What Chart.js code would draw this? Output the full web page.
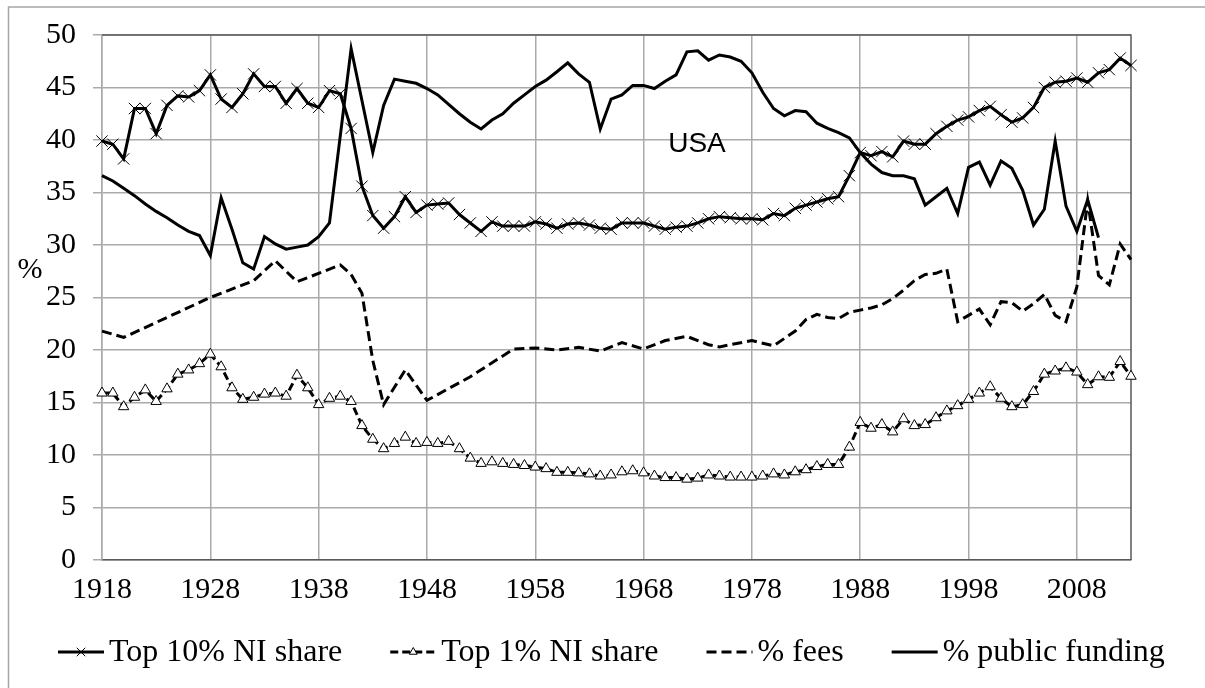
<!DOCTYPE html>
<html>
<head>
<meta charset="utf-8">
<script src="https://cdn.jsdelivr.net/npm/chart.js@4.4.1/dist/chart.umd.min.js"></script>
<style>
  html, body { margin: 0; padding: 0; background: #fff; }
  #wrap { position: relative; width: 1205px; height: 688px; }
</style>
</head>
<body>
<div id="wrap"><canvas id="grafico" width="1205" height="688"></canvas></div>
<script>
// years on the x axis, 1918 to 2013
const anos = [];
for (let a = 1918; a <= 2013; a++) anos.push(String(a));

const rotulosSeries = ['Top 10% NI share', 'Top 1% NI share', '% fees', '% public funding'];

// Top 10% NI share, 1918-2013
const top10 = [
  39.9, 39.6, 38.2, 43.0, 43.0, 40.6, 43.3, 44.2, 44.1, 44.7,
  46.2, 43.9, 43.1, 44.4, 46.3, 45.1, 45.1, 43.5, 44.9, 43.5,
  43.1, 44.7, 44.4, 41.1, 35.6, 32.8, 31.6, 32.7, 34.6, 33.1,
  33.8, 33.9, 34.0, 32.9, 32.1, 31.3, 32.2, 31.8, 31.8, 31.8,
  32.2, 32.0, 31.6, 32.0, 32.1, 31.9, 31.6, 31.5, 32.1, 32.1,
  32.1, 31.8, 31.5, 31.7, 31.8, 32.1, 32.5, 32.7, 32.6, 32.5,
  32.5, 32.4, 33.0, 32.8, 33.5, 33.8, 34.1, 34.4, 34.6, 36.6,
  38.8, 38.5, 38.9, 38.4, 39.9, 39.6, 39.6, 40.6, 41.3, 41.9,
  42.2, 42.8, 43.2, 42.4, 41.7, 42.1, 43.1, 45.0, 45.5, 45.6,
  45.9, 45.5, 46.4, 46.7, 47.8, 47.1
];

// Top 1% NI share, 1918-2013
const top1 = [
  15.9, 15.9, 14.6, 15.5, 16.2, 15.1, 16.3, 17.7, 18.1, 18.7,
  19.6, 18.4, 16.4, 15.3, 15.5, 15.8, 15.9, 15.6, 17.6, 16.4,
  14.8, 15.4, 15.6, 15.1, 12.8, 11.5, 10.6, 11.1, 11.7, 11.1,
  11.2, 11.1, 11.3, 10.6, 9.7, 9.2, 9.35, 9.2, 9.1, 9.0,
  8.85, 8.7, 8.35, 8.35, 8.3, 8.2, 8.0, 8.1, 8.4, 8.5,
  8.3, 8.0, 7.85, 7.85, 7.7, 7.8, 8.1, 8.0, 7.9, 7.9,
  7.9, 8.0, 8.2, 8.1, 8.4, 8.6, 8.9, 9.1, 9.1, 10.75,
  13.1, 12.55, 12.9, 12.2, 13.45, 12.8, 12.9, 13.55, 14.2, 14.7,
  15.3, 15.9, 16.5, 15.4, 14.6, 14.8, 16.05, 17.7, 18.0, 18.3,
  17.9, 16.7, 17.45, 17.4, 18.9, 17.5
];

// % fees (null = no observation, line is joined across)
const taxas = [
  21.8, null, 21.2, null, null, null, null, null, null, null,
  25.0, null, null, null, 26.6, null, 28.5, null, 26.5, null,
  null, null, 28.1, 27.2, 25.4, 19.0, 14.8, null, 18.1, null,
  15.2, null, null, null, 17.45, null, null, null, 20.1, null,
  20.2, null, 20.0, null, 20.25, null, 19.9, null, 20.7, null,
  20.1, null, 20.9, null, 21.3, null, 20.5, 20.3, null, null,
  20.9, null, 20.4, null, 21.8, 22.9, 23.4, 23.1, 23.0, 23.6,
  23.8, 24.0, 24.3, 24.9, 25.7, 26.6, 27.2, 27.3, 27.7, 22.7,
  23.3, 23.9, 22.4, 24.6, 24.5, 23.7, 24.4, 25.3, 23.3, 22.7,
  26.0, 34.2, 27.1, 26.2, 30.1, 28.6
];

// % public funding
const publico = [
  36.6, 36.1, 35.4, 34.7, 33.9, 33.2, 32.6, 31.9, 31.3, 30.9,
  29.0, 34.5, 31.5, 28.3, 27.7, 30.8, 30.1, 29.6, 29.8, 30.0,
  30.8, 32.1, null, 48.7, null, 38.8, 43.3, 45.8, 45.6, 45.4,
  44.9, 44.3, 43.4, 42.5, 41.7, 41.05, 41.9, 42.5, 43.5, 44.3,
  45.1, 45.7, 46.5, 47.35, 46.3, 45.5, 41.05, 43.9, 44.3, 45.2,
  45.2, 44.9, 45.6, 46.2, 48.4, 48.5, 47.6, 48.1, 47.9, 47.5,
  46.4, 44.55, 43.0, 42.3, 42.8, 42.7, 41.6, 41.1, 40.7, 40.2,
  38.8, 37.7, 36.9, 36.6, 36.6, 36.3, 33.8, 34.6, 35.4, 33.0,
  37.4, 37.9, 35.7, 38.0, 37.3, 35.2, 31.9, 33.4, 39.9, 33.7,
  31.3, 34.3, 30.7, null, null, null
];

const serif = '"Liberation Serif", "Times New Roman", serif';

// frame, plot border, "%" and "USA" texts, and the legend
const extras = {
  id: 'extras',
  beforeDraw(chart) {
    const ctx = chart.ctx;
    ctx.save();
    ctx.strokeStyle = '#a6a6a6';
    ctx.lineWidth = 1.5;
    ctx.beginPath();
    ctx.moveTo(8.5, 688); ctx.lineTo(8.5, 7); ctx.lineTo(1205, 7);
    ctx.stroke();
    ctx.restore();
  },
  beforeDatasetsDraw(chart) {
    const ctx = chart.ctx, a = chart.chartArea;
    ctx.save();
    ctx.strokeStyle = '#595959';
    ctx.lineWidth = 1.5;
    ctx.beginPath();
    ctx.moveTo(a.left, a.top); ctx.lineTo(a.right, a.top); ctx.lineTo(a.right, a.bottom);
    ctx.stroke();
    ctx.restore();
  },
  afterDraw(chart) {
    const ctx = chart.ctx;
    ctx.save();
    ctx.fillStyle = '#000';
    ctx.textAlign = 'center';
    ctx.textBaseline = 'middle';
    ctx.font = '30px ' + serif;
    ctx.fillText('%', 30, 270);
    ctx.font = '28px "Liberation Sans", Arial, sans-serif';
    ctx.fillText('USA', 697, 144);

    // legend
    ctx.font = '32px ' + serif;
    ctx.textAlign = 'left';
    let x = 58;
    const y = 652;
    chart.data.datasets.forEach(ds => {
      ctx.strokeStyle = '#000';
      ctx.lineWidth = 3;
      ctx.setLineDash(ds.borderDash || []);
      ctx.beginPath();
      ctx.moveTo(x, y); ctx.lineTo(x + 46, y);
      ctx.stroke();
      ctx.setLineDash([]);
      if (ds.pointRadius > 0) {
        ctx.fillStyle = '#fff';
        ctx.strokeStyle = '#000';
        ctx.lineWidth = 1;
        Chart.helpers.drawPoint(ctx, { pointStyle: ds.pointStyle, radius: ds.pointStyle === 'triangle' ? 4.5 : 6, borderWidth: 1, rotation: 0 }, x + 23, y);
      }
      ctx.fillStyle = '#000';
      ctx.fillText(ds.label, x + 51, y + 1);
      x += 51 + ctx.measureText(ds.label).width + 48;
    });
    ctx.restore();
  }
};

const ctx = document.getElementById('grafico').getContext('2d');
new Chart(ctx, {
  type: 'line',
  data: {
    labels: anos,
    datasets: [{
      label: rotulosSeries[0],
      data: top10,
      borderColor: '#000',
      borderWidth: 3,
      pointStyle: 'crossRot',
      pointRadius: 8,
      pointBorderWidth: 1,
      pointBorderColor: '#000',
      pointBackgroundColor: '#000',
      tension: 0
    }, {
      label: rotulosSeries[1],
      data: top1,
      borderColor: '#000',
      borderWidth: 3,
      borderDash: [8, 4],
      pointStyle: 'triangle',
      pointRadius: 6,
      pointBorderWidth: 1,
      pointBorderColor: '#000',
      pointBackgroundColor: '#fff',
      tension: 0
    }, {
      label: rotulosSeries[2],
      data: taxas,
      borderColor: '#000',
      borderWidth: 3,
      borderDash: [10, 5],
      pointRadius: 0,
      spanGaps: true,
      tension: 0
    }, {
      label: rotulosSeries[3],
      data: publico,
      borderColor: '#000',
      borderWidth: 3,
      pointRadius: 0,
      spanGaps: true,
      tension: 0
    }]
  },
  options: {
    responsive: false,
    devicePixelRatio: 1,
    animation: false,
    layout: { padding: { top: 25, right: 74, left: 0, bottom: 0 } },
    plugins: {
      legend: { display: false },
      tooltip: { enabled: false }
    },
    scales: {
      x: {
        type: 'category',
        offset: false,
        grid: {
          color: c => (c.index % 10 === 0 ? '#aaaaaa' : 'rgba(0,0,0,0)'),
          lineWidth: 1.5,
          drawTicks: false
        },
        border: { color: '#595959', width: 1.5 },
        ticks: {
          autoSkip: false,
          maxRotation: 0,
          minRotation: 0,
          padding: 12,
          color: '#000',
          font: { family: serif, size: 30 },
          callback: (v, i) => (i % 10 === 0 ? anos[i] : '')
        },
        afterFit: s => { s.height = 128; }
      },
      y: {
        min: 0,
        max: 50,
        grid: { color: '#aaaaaa', lineWidth: 1.5, tickLength: 9 },
        border: { color: '#aaaaaa', width: 1.5 },
        ticks: {
          stepSize: 5,
          padding: 17,
          color: '#000',
          font: { family: serif, size: 30 }
        },
        afterFit: s => { s.width = 102; }
      }
    }
  },
  plugins: [extras]
});
</script>
</body>
</html>
